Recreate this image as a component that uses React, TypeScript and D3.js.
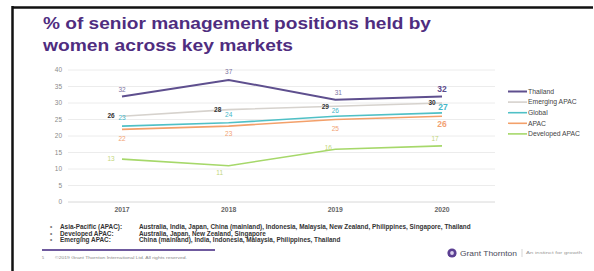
import React from "react";
import * as d3 from "d3";

const W = 594;
const H = 271;

const years = ["2017", "2018", "2019", "2020"];
const yTicks = [0, 5, 10, 15, 20, 25, 30, 35, 40];

const thailand = [32, 37, 31, 32];
const emergingApac = [26, 28, 29, 30];
const globalVals = [23, 24, 26, 27];
const apac = [22, 23, 25, 26];
const developedApac = [13, 11, 16, 17];

const legendNames = ["Thailand", "Emerging APAC", "Global", "APAC", "Developed APAC"];

const footLabels = ["Asia-Pacific (APAC):", "Developed APAC:", "Emerging APAC:"];
const footValues = [
  "Australia, India, Japan, China (mainland), Indonesia, Malaysia, New Zealand, Philippines, Singapore, Thailand",
  "Australia, Japan, New Zealand, Singapore",
  "China (mainland), India, Indonesia, Malaysia, Philippines, Thailand",
];

type Series = {
  name: string;
  values: number[];
  color: string;
  labelColor: string;
  width: number;
  // label offsets from each point (style only)
  off: [number, number][];
  boldLast: boolean;
};

const series: Series[] = [
  { name: legendNames[1], values: emergingApac, color: "#d6d2cd", labelColor: "#333", width: 1.6,
    off: [[-11, 0], [-11, 0], [-10, 0], [-10, 0]], boldLast: false },
  { name: legendNames[4], values: developedApac, color: "#a6d86a", labelColor: "#c2d67a", width: 1.6,
    off: [[-11, 0], [-9, 7], [-7, -1], [-7, -7]], boldLast: false },
  { name: legendNames[3], values: apac, color: "#f3a06a", labelColor: "#f2a273", width: 1.6,
    off: [[0, 9], [0, 8], [0, 9], [0, 8]], boldLast: true },
  { name: legendNames[2], values: globalVals, color: "#4fc0c6", labelColor: "#45b6c8", width: 1.6,
    off: [[0, -8], [0, -8], [0, -5], [1, -6]], boldLast: true },
  { name: legendNames[0], values: thailand, color: "#5e4f8e", labelColor: "#7d739f", width: 2,
    off: [[0, -7], [0, -8], [3, -7], [0, -7]], boldLast: true },
];

const legendColors: Record<string, string> = {
  Thailand: "#5e4f8e",
  "Emerging APAC": "#d6d2cd",
  Global: "#4fc0c6",
  APAC: "#f3a06a",
  "Developed APAC": "#a6d86a",
};

export default function App() {
  const x = d3.scalePoint<string>().domain(years).range([122, 442]);
  const y = d3.scaleLinear().domain([0, 40]).range([202, 70]);
  const line = d3.line<number>()
    .x((_, i) => x(years[i])!)
    .y((d) => y(d));

  return (
    <svg width={W} height={H} style={{ position: "absolute", left: 0, top: 0, background: "#fff" }}
      fontFamily="Liberation Sans, Arial, sans-serif">
      <rect width={W} height={H} fill="#fff" />
      {/* frame */}
      <line x1={12} y1={7.5} x2={593} y2={7.5} stroke="#111" strokeWidth={2.5} />
      <line x1={12.5} y1={6} x2={12.5} y2={H} stroke="#111" strokeWidth={2.5} />

      {/* title */}
      <g fill="#4f2d7f" fontWeight="bold" fontSize={17}>
        <text x={43} y={29} textLength={388} lengthAdjust="spacingAndGlyphs">% of senior management positions held by</text>
        <text x={43} y={51} textLength={250} lengthAdjust="spacingAndGlyphs">women across key markets</text>
      </g>

      {/* grid */}
      {yTicks.map((t) => (
        <g key={t}>
          <line x1={68} x2={495} y1={y(t)} y2={y(t)} stroke={t === 0 ? "#d8d8d8" : "#ececec"} strokeWidth={1} />
          <text x={62} y={y(t)} dy="0.35em" textAnchor="end" fontSize={6.5} fill="#8a8a8a">{t}</text>
        </g>
      ))}
      {years.map((yr) => (
        <text key={yr} x={x(yr)} y={211.5} textAnchor="middle" fontSize={6.8} fontWeight="bold" fill="#666">{yr}</text>
      ))}

      {/* lines */}
      {series.map((s) => (
        <path key={s.name} d={line(s.values) || ""} fill="none" stroke={s.color} strokeWidth={s.width} />
      ))}

      {/* value labels */}
      {series.map((s) =>
        s.values.map((v, i) => {
          const last = i === s.values.length - 1;
          const big = last && s.boldLast;
          return (
            <text key={s.name + i} x={x(years[i])! + s.off[i][0]} y={y(v) + s.off[i][1]} dy="0.35em"
              textAnchor="middle" fontSize={big ? 8.5 : 6.5}
              fontWeight={big || s.name === "Emerging APAC" ? "bold" : "normal"}
              fill={big && s.name === "Thailand" ? "#5b4a8b" : s.labelColor}>
              {v}
            </text>
          );
        })
      )}

      {/* legend */}
      {legendNames.map((n, i) => (
        <g key={n} transform={`translate(508,${91.5 + i * 10.6})`}>
          <line x1={0} x2={19} y1={0} y2={0} stroke={legendColors[n]} strokeWidth={n === "Thailand" ? 2 : 1.6} />
          <text x={20} y={0} dy="0.35em" fontSize={6.8} fill="#444">{n}</text>
        </g>
      ))}

      {/* footnotes */}
      {footLabels.map((l, i) => (
        <g key={l} fontSize={6.4} fontWeight="bold" fill="#333">
          <text x={50} y={227 + i * 6.4} dy="0.35em" fill="#777">•</text>
          <text x={60} y={227 + i * 6.4} dy="0.35em">{l}</text>
          <text x={139} y={227 + i * 6.4} dy="0.35em">{footValues[i]}</text>
        </g>
      ))}
      <line x1={42} x2={215} y1={250} y2={250} stroke="#6f5a9e" strokeWidth={2} />
      <text x={42} y={258} dy="0.35em" fontSize={3.6} fill="#777">5</text>
      <text x={55} y={258} dy="0.35em" fontSize={3.6} fill="#888" textLength={132} lengthAdjust="spacingAndGlyphs">
        ©2019 Grant Thornton International Ltd. All rights reserved.
      </text>

      {/* brand */}
      <circle cx={452} cy={253} r={4.6} fill="#5b3f92" />
      <circle cx={452} cy={253} r={1.9} fill="#d9d0ec" />
      <text x={460} y={253} dy="0.35em" fontSize={7.2} fill="#4a4a5a" textLength={57} lengthAdjust="spacingAndGlyphs">Grant Thornton</text>
      <line x1={522} x2={522} y1={249} y2={257} stroke="#bbb" strokeWidth={0.6} />
      <text x={526} y={253} dy="0.35em" fontSize={4} fill="#999" textLength={56} lengthAdjust="spacingAndGlyphs">An instinct for growth</text>
    </svg>
  );
}
